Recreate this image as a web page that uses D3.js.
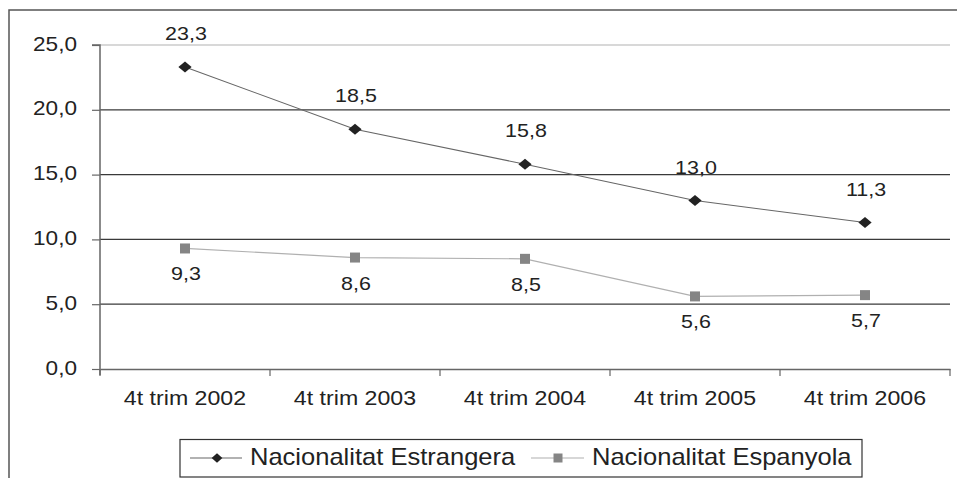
<!DOCTYPE html>
<html>
<head>
<meta charset="utf-8">
<script src="https://cdn.jsdelivr.net/npm/d3@7"></script>
<style>
  html, body { margin: 0; padding: 0; background: #fff; }
  svg { display: block; }
  text { font-family: "Liberation Sans", Arial, sans-serif; fill: #222; }
</style>
</head>
<body>
<script>
// Categories and series
const categories = ["4t trim 2002", "4t trim 2003", "4t trim 2004", "4t trim 2005", "4t trim 2006"];
const estrangera = [23.3, 18.5, 15.8, 13.0, 11.3];
const espanyola = [9.3, 8.6, 8.5, 5.6, 5.7];
const seriesNames = ["Nacionalitat Estrangera", "Nacionalitat Espanyola"];
const yTicks = [0, 5, 10, 15, 20, 25];

const W = 957, H = 478;
const plot = { left: 100, right: 950, top: 45, bottom: 369 };
const SX = 1.13; // horizontal stretch of the lettering

const fmt = v => d3.format(".1f")(v).replace(".", ",");

const svg = d3.select("body").append("svg").attr("width", W).attr("height", H);

const x = d3.scaleBand().domain(categories).range([plot.left, plot.right]).padding(0);
const y = d3.scaleLinear().domain([0, 25]).range([plot.bottom, plot.top]);
const cx = c => x(c) + x.bandwidth() / 2;

// Outer chart frame (top and left edges)
svg.append("path")
  .attr("d", `M9,${H} L9,10 L${W},10`)
  .attr("fill", "none").attr("stroke", "#555").attr("stroke-width", 1.5);

// Horizontal gridlines
svg.append("g").selectAll("line")
  .data(yTicks.filter(t => t > 0))
  .join("line")
  .attr("x1", plot.left).attr("x2", plot.right)
  .attr("y1", d => y(d)).attr("y2", d => y(d))
  .attr("stroke", d => d === 25 ? "#d8d8d8" : "#3a3a3a")
  .attr("stroke-width", d => d === 25 ? 2 : 1.2);

// Y axis
const yAxis = svg.append("g")
  .attr("transform", `translate(${plot.left},0)`)
  .call(d3.axisLeft(y).tickValues(yTicks).tickSize(8).tickFormat(fmt));
yAxis.select(".domain").attr("stroke", "#666").attr("stroke-width", 1.5)
  .attr("d", `M-8,${plot.top}H0V${plot.bottom + 6}`);
yAxis.selectAll(".tick line").attr("stroke", "#666").attr("stroke-width", 1.2);
yAxis.selectAll(".tick text")
  .attr("x", -23 / SX).attr("dy", null).attr("y", 5)
  .attr("transform", `scale(${SX},1)`)
  .style("font-size", "20px").attr("fill", "#222");

// X axis
const xAxis = svg.append("g")
  .attr("transform", `translate(0,${plot.bottom})`)
  .call(d3.axisBottom(x).tickSize(0).tickFormat(d => d));
xAxis.select(".domain").attr("stroke", "#666").attr("stroke-width", 1.5);
xAxis.selectAll(".tick text")
  .attr("x", 0).attr("y", 36).attr("dy", null)
  .attr("transform", `scale(${SX},1)`)
  .style("font-size", "20.5px").attr("fill", "#222");
// Category boundary ticks
svg.append("g").selectAll("line")
  .data(categories.map(c => x(c)).concat([plot.right]))
  .join("line")
  .attr("x1", d => d).attr("x2", d => d)
  .attr("y1", plot.bottom).attr("y2", plot.bottom + 7)
  .attr("stroke", "#666").attr("stroke-width", 1.2);

const line = d3.line().x((d, i) => cx(categories[i])).y(d => y(d));

// Series lines
svg.append("path").datum(espanyola).attr("d", line)
  .attr("fill", "none").attr("stroke", "#b0b0b0").attr("stroke-width", 1.2);
svg.append("path").datum(estrangera).attr("d", line)
  .attr("fill", "none").attr("stroke", "#666").attr("stroke-width", 1.1);

const diamond = d3.symbol().type(d3.symbolSquare).size(80);

// Markers
svg.append("g").selectAll("path")
  .data(estrangera).join("path")
  .attr("d", diamond)
  .attr("transform", (d, i) => `translate(${cx(categories[i])},${y(d)}) scale(1.05,0.88) rotate(45)`)
  .attr("fill", "#222");
svg.append("g").selectAll("rect")
  .data(espanyola).join("rect")
  .attr("x", (d, i) => cx(categories[i]) - 5).attr("y", d => y(d) - 5)
  .attr("width", 10).attr("height", 10)
  .attr("fill", "#858585");

// Value labels
svg.append("g").selectAll("text")
  .data(estrangera).join("text")
  .attr("text-anchor", "middle")
  .attr("transform", (d, i) => `translate(${cx(categories[i]) + 1},${y(d) - 27}) scale(${SX},1)`)
  .style("font-size", "19px")
  .text(fmt);
svg.append("g").selectAll("text")
  .data(espanyola).join("text")
  .attr("text-anchor", "middle")
  .attr("transform", (d, i) => `translate(${cx(categories[i]) + 1},${y(d) + 32}) scale(${SX},1)`)
  .style("font-size", "19px")
  .text(fmt);

// Legend
const legend = svg.append("g");
legend.append("rect")
  .attr("x", 180).attr("y", 439.5).attr("width", 682).attr("height", 37.5)
  .attr("fill", "#fff").attr("stroke", "#333").attr("stroke-width", 1.2);

const legendItems = [
  { name: seriesNames[0], x0: 190, x1: 242, mx: 217, color: "#666", type: "diamond", tx: 250 },
  { name: seriesNames[1], x0: 531, x1: 584, mx: 558, color: "#b0b0b0", type: "square", tx: 592 }
];
const ly = 458;
legendItems.forEach(it => {
  legend.append("line")
    .attr("x1", it.x0).attr("x2", it.x1).attr("y1", ly).attr("y2", ly)
    .attr("stroke", it.color).attr("stroke-width", 1.2);
  if (it.type === "diamond") {
    legend.append("path").attr("d", diamond)
      .attr("transform", `translate(${it.mx},${ly}) scale(0.85,0.75) rotate(45)`)
      .attr("fill", "#222");
  } else {
    legend.append("rect").attr("x", it.mx - 4.5).attr("y", ly - 4.5)
      .attr("width", 9).attr("height", 9).attr("fill", "#858585");
  }
  legend.append("text")
    .attr("transform", `translate(${it.tx},465) scale(1.11,1)`)
    .style("font-size", "23px")
    .text(it.name);
});
</script>
</body>
</html>
